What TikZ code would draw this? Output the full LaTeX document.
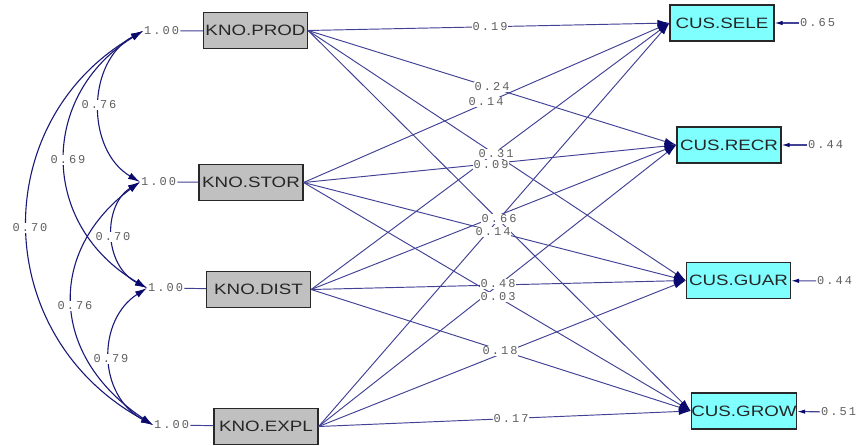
\documentclass[tikz,border=0pt]{standalone}
\usepackage{fontspec}
\setmainfont{Liberation Sans}
\newfontfamily\numfont[LetterSpace=17]{Liberation Mono}
\usetikzlibrary{arrows.meta}
\definecolor{pathc}{RGB}{65,65,150}
\definecolor{corc}{RGB}{25,25,120}
\definecolor{tipc}{RGB}{10,10,110}
\definecolor{numc}{RGB}{95,95,95}
\definecolor{boxgray}{RGB}{192,192,192}
\definecolor{boxcyan}{RGB}{128,255,255}
\definecolor{boxline}{RGB}{40,40,40}
\begin{document}
\begin{tikzpicture}[x=1pt,y=-1pt,
 knobox/.style={draw=boxline, line width=1.2pt, fill=boxgray, minimum width=104pt, minimum height=36pt, inner sep=0pt, text=black!85, font=\fontsize{15}{15}\selectfont},
 cusbox/.style={knobox, fill=boxcyan},
 num/.style={font=\numfont\fontsize{12}{12}\selectfont, text=numc, inner sep=1pt},
 numbg/.style={num, fill=white},
 pathline/.style={draw=pathc, line width=0.95pt, -{Latex[length=12pt,width=7pt,color=tipc]}},
 corline/.style={draw=corc, line width=1.1pt, {Latex[length=12pt,width=7pt,color=tipc]}-{Latex[length=12pt,width=7pt,color=tipc]}},
 errline/.style={draw=pathc, line width=1.1pt, -{Latex[length=8pt,width=4.5pt,color=tipc]}},
 varline/.style={draw=pathc, line width=0.95pt}
]
\useasboundingbox[fill=white] (0,0) rectangle (858,445);

% boxes
\node[knobox] (prod) at (255.5,30.5) {\scalebox{1.25}[1]{KNO.PROD}};
\node[knobox] (stor) at (251,182.5) {\scalebox{1.25}[1]{KNO.STOR}};
\node[knobox] (dist) at (258.5,289.5) {\scalebox{1.25}[1]{KNO.DIST}};
\node[knobox] (expl) at (266,426.5) {\scalebox{1.25}[1]{KNO.EXPL}};
\node[cusbox] (sele) at (722,23) {\scalebox{1.25}[1]{CUS.SELE}};
\node[cusbox] (recr) at (729,145) {\scalebox{1.25}[1]{CUS.RECR}};
\node[cusbox] (guar) at (738.5,280.5) {\scalebox{1.25}[1]{CUS.GUAR}};
\node[cusbox] (grow) at (744,411) {\scalebox{1.25}[1]{CUS.GROW}};

% variances
\node[num, anchor=west] (vp) at (143,31) {1.00};
\node[num, anchor=west] (vs) at (140,182) {1.00};
\node[num, anchor=west] (vd) at (147,288) {1.00};
\node[num, anchor=west] (ve) at (153,425) {1.00};
\draw[varline] (vp) -- (prod);
\draw[varline] (vs) -- (stor);
\draw[varline] (vd) -- (dist);
\draw[varline] (ve) -- (expl);

% correlations
\draw[corline] (vp.west) .. controls (86,62) and (86,150) .. (vs.west);
\draw[corline] (vp.west) .. controls (39,95) and (39,225) .. (vd.west);
\draw[corline] (vp.west) .. controls (-12,120) and (-12,335) .. (ve.west);
\draw[corline] (vs.west) .. controls (103,205) and (103,265) .. (vd.west);
\draw[corline] (vs.west) .. controls (48,250) and (48,355) .. (ve.west);
\draw[corline] (vd.west) .. controls (97,320) and (97,395) .. (ve.west);
\node[numbg] (c1) at (99,105) {0.76};
\node[numbg] (c2) at (68,160) {0.69};
\node[numbg] (c3) at (30,228) {0.70};
\node[numbg] (c4) at (113,237) {0.70};
\node[numbg] (c5) at (75,306) {0.76};
\node[numbg] (c6) at (111,359) {0.79};

% paths
\foreach \s in {prod,stor,dist,expl}{
  \foreach \t in {sele,recr,guar,grow}{
    \draw[pathline] (\s.east) -- (\t.west);
  }
}
\node[numbg] (l1) at (490,27) {0.19};
\node[numbg] (l2) at (492,87) {0.24};
\node[numbg] (l3) at (486,102) {0.14};
\node[numbg] (l4) at (496,154) {0.31};
\node[numbg] (l5) at (491,165) {0.09};
\node[numbg] (l6) at (499,219) {0.66};
\node[numbg] (l7) at (493,232) {0.14};
\node[numbg] (l8) at (498,284) {0.48};
\node[numbg] (l9) at (498,297) {0.03};
\node[numbg] (l10) at (500,351) {0.18};
\node[numbg] (l11) at (511,419) {0.17};

% errors
\node[num, anchor=west] (e1) at (799,23) {0.65};
\node[num, anchor=west] (e2) at (807,145) {0.44};
\node[num, anchor=west] (e3) at (816,281) {0.44};
\node[num, anchor=west] (e4) at (820,412) {0.51};
\draw[errline] (e1) -- (sele);
\draw[errline] (e2) -- (recr);
\draw[errline] (e3) -- (guar);
\draw[errline] (e4) -- (grow);
\end{tikzpicture}
\end{document}
